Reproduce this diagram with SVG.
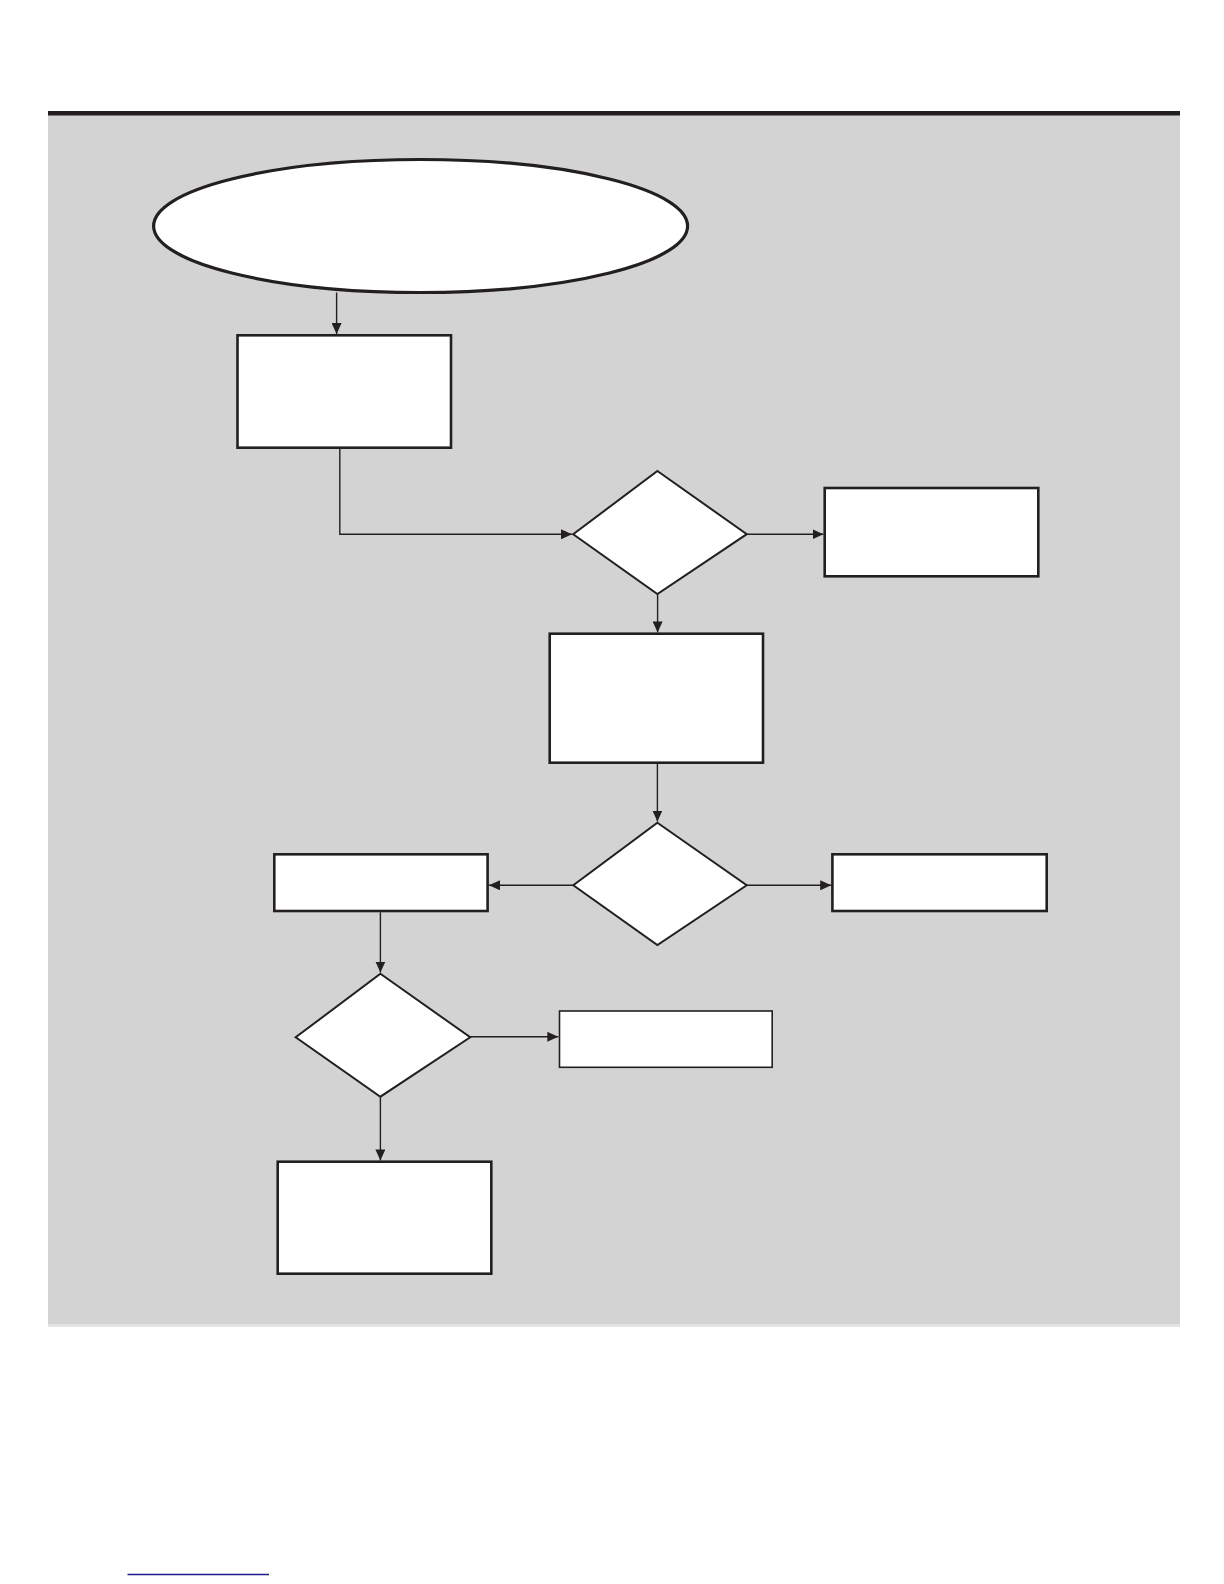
<svg xmlns="http://www.w3.org/2000/svg" width="1224" height="1584" viewBox="0 0 1224 1584">
<style>
.node{fill:#fff;stroke:#231f20}
.box{stroke-width:2.6}
.thin{stroke-width:1.6}
.dia{stroke-width:2}
.conn{fill:none;stroke:#231f20;stroke-width:1.4}
</style>
<defs>
<marker id="ah" markerUnits="userSpaceOnUse" markerWidth="12" markerHeight="10" refX="11" refY="5" orient="auto">
<path d="M0,0 L11,5 L0,10 Z" fill="#231f20"/>
</marker>
</defs>
<rect x="0" y="0" width="1224" height="1584" fill="#fff"/>
<rect x="48" y="115" width="1132" height="1211" fill="#d3d3d3"/>
<rect x="48" y="1324" width="1132" height="3" fill="#e4e4e4"/>
<rect x="48" y="111" width="1132" height="4.5" fill="#231f20"/>
<g id="start"><ellipse class="node" cx="420.6" cy="226" rx="267" ry="66.5" stroke-width="3.2"/></g>
<g id="box1"><rect class="node box" x="237.5" y="335.3" width="213.5" height="112.4"/></g>
<g id="dec1"><polygon class="node dia" points="657.4,471 746.8,534.2 657.4,594 573.2,534.2"/></g>
<g id="boxA"><rect class="node box" x="824.7" y="488" width="213.6" height="88.3"/></g>
<g id="box2"><rect class="node box" x="549.7" y="633.7" width="213.3" height="129"/></g>
<g id="dec2"><polygon class="node dia" points="657.4,822.7 746.7,885.3 657.4,945 573.3,885.3"/></g>
<g id="boxL"><rect class="node box" x="274.3" y="854.3" width="213.3" height="56.7"/></g>
<g id="boxR"><rect class="node box" x="832.4" y="854.3" width="214.3" height="56.7"/></g>
<g id="dec3"><polygon class="node dia" points="380.4,973.7 470.2,1037.3 380.4,1096.7 295.7,1037.3"/></g>
<g id="boxC"><rect class="node thin" x="559.5" y="1011" width="212.7" height="56.3"/></g>
<g id="boxD"><rect class="node box" x="277.7" y="1161.7" width="213.6" height="112"/></g>
<g id="connectors">
<path class="conn" d="M336.6,292.5 V334" marker-end="url(#ah)"/>
<path class="conn" d="M339.8,448.5 V534.3 H572" marker-end="url(#ah)"/>
<path class="conn" d="M747,534.2 H823.5" marker-end="url(#ah)"/>
<path class="conn" d="M657.6,594 V632.4" marker-end="url(#ah)"/>
<path class="conn" d="M657.4,763.5 V821.5" marker-end="url(#ah)"/>
<path class="conn" d="M573.3,885.3 H489" marker-end="url(#ah)"/>
<path class="conn" d="M746.7,885.3 H831.2" marker-end="url(#ah)"/>
<path class="conn" d="M380.4,912.3 V972.5" marker-end="url(#ah)"/>
<path class="conn" d="M470.2,1036.8 H558.3" marker-end="url(#ah)"/>
<path class="conn" d="M380.4,1096.7 V1160.4" marker-end="url(#ah)"/>
</g>
<line x1="127.5" y1="1574.5" x2="269" y2="1574.5" stroke="#1c1c8a" stroke-width="1.6"/>
</svg>
